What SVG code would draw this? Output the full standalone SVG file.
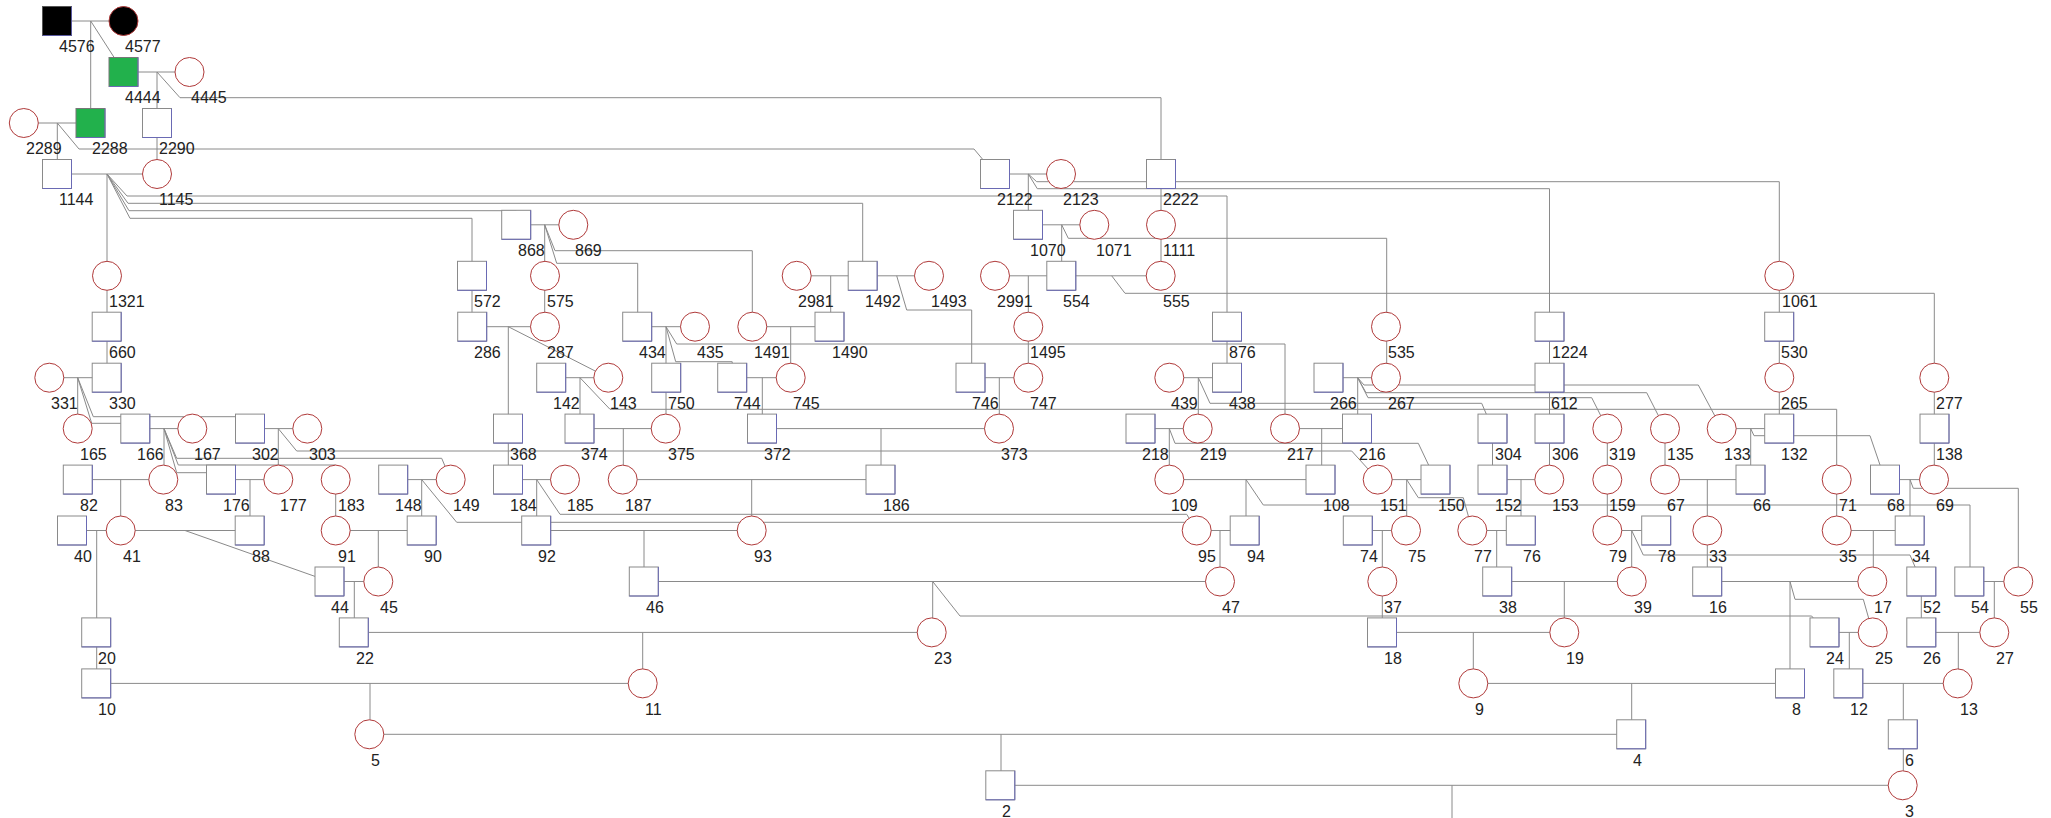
<svg xmlns="http://www.w3.org/2000/svg" xmlns:xlink="http://www.w3.org/1999/xlink" width="2051" height="818" viewBox="0 0 2051 818">
<style>
.c path{fill:none;stroke:#8a8a8a;stroke-width:1}
text{font-family:"Liberation Sans",Arial,sans-serif;font-size:16px;fill:#222}
</style>
<defs>
<g id="sq"><rect x="-14.5" y="-14.5" width="29" height="29" fill="#fff" stroke="#8a8a8a"/><path d="M14.5 -14.5V14.5H-14.5" fill="none" stroke="#6a6ab4"/></g>
<g id="sqK"><rect x="-14.5" y="-14.5" width="29" height="29" fill="#000" stroke="#555"/><path d="M14.5 -14.5V14.5H-14.5" fill="none" stroke="#5a5aa0"/></g>
<g id="sqG"><rect x="-14.5" y="-14.5" width="29" height="29" fill="#22b14c" stroke="#777"/><path d="M14.5 -14.5V14.5H-14.5" fill="none" stroke="#6a6ab4"/></g>
<circle id="ci" r="14.5" fill="#fff" stroke="#b03a3a"/>
<circle id="ciK" r="14.5" fill="#000" stroke="#b03a3a"/>
</defs>
<rect width="2051" height="818" fill="#fff"/>
<g id="connectors" class="c">
<path d="M57 21H123.5M90.7 21V123M90.7 21L123.5 72"/>
<path d="M123.5 72H189.5M157 72V174M157 72L180 97.7H1161V174"/>
<path d="M23.8 123H90.5M57.3 123V174M57.3 123L79 149H974L995 174"/>
<path d="M57 174H157M107 174V377.7M107 174L127 196H1227V377.7M107 174L128 203.3H862.7V275.8M107 174L129 210.7H516.2V224.8M107 174L130 218.3H472V326.7"/>
<path d="M995 174H1061M1028.3 174V224.8M1028.3 174L1036.7 181.7H1779.3V428.6M1028.3 174L1037.3 188.7H1549.5V479.6"/>
<path d="M1161 174V275.8"/>
<path d="M516.2 224.8H573.3M544.7 224.8V326.7M544.7 224.8L555 250.7H752.3V326.7M544.7 224.8L556.7 263.3H637.7V326.7"/>
<path d="M1028 224.8H1094.3M1061.7 224.8V275.8M1061.7 224.8L1068.3 238.3H1386.7V377.7"/>
<path d="M796.7 275.8H929M830.7 275.8V326.7M896.7 275.8L906.7 310H971.7V377.7"/>
<path d="M995 275.8H1160.7M1028.3 275.8V377.7M1111.7 275.8L1125 293.3H1934.3V479.6"/>
<path d="M472.2 326.7H545M508.3 326.7V479.6M508.3 326.7L608.3 377.7"/>
<path d="M637.2 326.7H695M666 326.7V428.6M666 326.7L676.7 344H1285V428.6M666 326.7L675.7 361.7H732.2V377.7"/>
<path d="M752.3 326.7H829.5M790.7 326.7V377.7"/>
<path d="M49.3 377.7H106.7M77.7 377.7V428.6M77.7 377.7L93.3 416.7H250V428.6M77.7 377.7L91.7 423.3H135.3"/>
<path d="M551.2 377.7H608.3M580 377.7V428.6M580 377.7L610 409.3H1836.7V479.6"/>
<path d="M732.2 377.7H790.7M762.3 377.7V428.6M970.5 377.7H1028.3M999.3 377.7V428.6"/>
<path d="M1169.3 377.7H1227M1198.3 377.7V428.6M1198.3 377.7L1210 403.3H1481.7L1492.5 428.6"/>
<path d="M1328.5 377.7H1386M1357.7 377.7V428.6M1357.7 377.7L1364 385H1698.3L1721.7 428.6M1357.7 377.7L1366 392.7H1646.7L1665 428.6M1357.7 377.7L1368 397.7H1591.7L1607.3 428.6"/>
<path d="M135.3 428.6H192.3M164 428.6V479.6M164 428.6L176.7 458.3H441.7L450.7 479.6M164 428.6L178.3 465H335.7V530.5M164 428.6L176.7 472.7H221V479.6"/>
<path d="M250 428.6H307.3M278.3 428.6V479.6M278.3 428.6L296.7 451H1351.7L1377.7 479.6"/>
<path d="M579.5 428.6H665.7M623.3 428.6V479.6M762 428.6H999M881 428.6V479.6"/>
<path d="M1140.5 428.6H1197.7M1169.3 428.6V479.6M1169.3 428.6L1175 443.3H1418.3L1435.5 479.6"/>
<path d="M1285 428.6H1357M1321.7 428.6V479.6M1492.5 428.6V479.6M1607.3 428.6V530.5M1665 428.6V479.6"/>
<path d="M1721.7 428.6H1779.2M1750.7 428.6V479.6M1750.7 428.6L1754 435.7H1870L1885 479.6"/>
<path d="M77.8 479.6H163.3M120.7 479.6V530.5M221 479.6H278.3M250 479.6V530.5"/>
<path d="M393.2 479.6H450.7M421.7 479.6V530.5M421.7 479.6L456.7 522.3H1186.7L1196.7 530.5"/>
<path d="M508 479.6H565M536.7 479.6V530.5M536.7 479.6L560 514.3H1186.7L1196.7 530.5"/>
<path d="M622.7 479.6H880.5M751.7 479.6V530.5"/>
<path d="M1169.3 479.6H1320.5M1246 479.6V530.5M1246 479.6L1263.3 505H1970V581.5"/>
<path d="M1377.7 479.6H1435.5M1406.7 479.6V530.5M1406.7 479.6L1418.3 497.7H1463.3L1472.3 530.5"/>
<path d="M1492.5 479.6H1549.3M1521 479.6V530.5M1665 479.6H1750.5M1707.3 479.6V581.5M1836.7 479.6V530.5"/>
<path d="M1885 479.6H1934M1910 479.6V530.5M1910 479.6L1913.3 488.3H2018.3V581.5"/>
<path d="M72 530.5H249.7M96.7 530.5V683.4M185 530.5L329.5 581.5"/>
<path d="M335.7 530.5H421.7M378.3 530.5V581.5M536.2 530.5H751.7M644 530.5V581.5"/>
<path d="M1196.7 530.5H1244.7M1220 530.5V581.5M1357.8 530.5H1406M1382.3 530.5V632.4M1472.3 530.5H1520.8M1496.7 530.5V581.5"/>
<path d="M1607.3 530.5H1656.2M1631.7 530.5V581.5M1631.7 530.5L1643.3 555H1910L1921.3 581.5"/>
<path d="M1836.7 530.5H1909.7M1873.3 530.5V581.5"/>
<path d="M329.5 581.5H378.3M354.3 581.5V632.4"/>
<path d="M643.8 581.5H1220M932.7 581.5V632.4M932.7 581.5L960 616H1811.7L1824.5 632.4"/>
<path d="M1497.2 581.5H1631.7M1564.3 581.5V632.4"/>
<path d="M1707.2 581.5H1872.3M1790 581.5V683.4M1790 581.5L1795 599.3H1863.3L1872.7 632.4"/>
<path d="M1921.3 581.5V632.4M1969.3 581.5H2018.3M1994.3 581.5V632.4"/>
<path d="M353.8 632.4H931.7M642.7 632.4V683.4M1382 632.4H1564.3M1473.3 632.4V683.4"/>
<path d="M1824.5 632.4H1872.7M1849.3 632.4V683.4M1921.3 632.4H1994.3M1958.3 632.4V683.4"/>
<path d="M96.2 683.4H642.7M370 683.4V734.3M1473.3 683.4H1790M1631.7 683.4V734.3M1848.3 683.4H1957.7M1903.3 683.4V785.3"/>
<path d="M369.3 734.3H1631.2M1001 734.3V785.3M1000.3 785.3H1902.7M1452 785.3V818"/>
</g>
<g id="n4576"><use href="#sqK" x="57" y="21"/><text x="59" y="52">4576</text></g>
<g id="n4577"><use href="#ciK" x="123.5" y="21"/><text x="125" y="52">4577</text></g>
<g id="n4444"><use href="#sqG" x="123.5" y="72"/><text x="125" y="103">4444</text></g>
<g id="n4445"><use href="#ci" x="189.5" y="72"/><text x="191" y="103">4445</text></g>
<g id="n2289"><use href="#ci" x="23.8" y="123"/><text x="26" y="154">2289</text></g>
<g id="n2288"><use href="#sqG" x="90.5" y="123"/><text x="92" y="154">2288</text></g>
<g id="n2290"><use href="#sq" x="157" y="123"/><text x="159" y="154">2290</text></g>
<g id="n1144"><use href="#sq" x="57" y="174"/><text x="59" y="205">1144</text></g>
<g id="n1145"><use href="#ci" x="157" y="174"/><text x="159" y="205">1145</text></g>
<g id="n2122"><use href="#sq" x="995" y="174"/><text x="997" y="205">2122</text></g>
<g id="n2123"><use href="#ci" x="1061" y="174"/><text x="1063" y="205">2123</text></g>
<g id="n2222"><use href="#sq" x="1161" y="174"/><text x="1163" y="205">2222</text></g>
<g id="n868"><use href="#sq" x="516.2" y="224.8"/><text x="518" y="256">868</text></g>
<g id="n869"><use href="#ci" x="573.3" y="224.8"/><text x="575" y="256">869</text></g>
<g id="n1070"><use href="#sq" x="1028" y="224.8"/><text x="1030" y="256">1070</text></g>
<g id="n1071"><use href="#ci" x="1094.3" y="224.8"/><text x="1096" y="256">1071</text></g>
<g id="n1111"><use href="#ci" x="1161" y="224.8"/><text x="1163" y="256">1111</text></g>
<g id="n1321"><use href="#ci" x="107" y="275.8"/><text x="109" y="307">1321</text></g>
<g id="n572"><use href="#sq" x="472" y="275.8"/><text x="474" y="307">572</text></g>
<g id="n575"><use href="#ci" x="545" y="275.8"/><text x="547" y="307">575</text></g>
<g id="n2981"><use href="#ci" x="796.7" y="275.8"/><text x="798" y="307">2981</text></g>
<g id="n1492"><use href="#sq" x="862.7" y="275.8"/><text x="865" y="307">1492</text></g>
<g id="n1493"><use href="#ci" x="929" y="275.8"/><text x="931" y="307">1493</text></g>
<g id="n2991"><use href="#ci" x="995" y="275.8"/><text x="997" y="307">2991</text></g>
<g id="n554"><use href="#sq" x="1061.3" y="275.8"/><text x="1063" y="307">554</text></g>
<g id="n555"><use href="#ci" x="1160.7" y="275.8"/><text x="1163" y="307">555</text></g>
<g id="n1061"><use href="#ci" x="1779.3" y="275.8"/><text x="1782" y="307">1061</text></g>
<g id="n660"><use href="#sq" x="106.7" y="326.7"/><text x="109" y="358">660</text></g>
<g id="n286"><use href="#sq" x="472.2" y="326.7"/><text x="474" y="358">286</text></g>
<g id="n287"><use href="#ci" x="545" y="326.7"/><text x="547" y="358">287</text></g>
<g id="n434"><use href="#sq" x="637.2" y="326.7"/><text x="639" y="358">434</text></g>
<g id="n435"><use href="#ci" x="695" y="326.7"/><text x="697" y="358">435</text></g>
<g id="n1491"><use href="#ci" x="752.3" y="326.7"/><text x="754" y="358">1491</text></g>
<g id="n1490"><use href="#sq" x="829.5" y="326.7"/><text x="832" y="358">1490</text></g>
<g id="n1495"><use href="#ci" x="1028.3" y="326.7"/><text x="1030" y="358">1495</text></g>
<g id="n876"><use href="#sq" x="1227" y="326.7"/><text x="1229" y="358">876</text></g>
<g id="n535"><use href="#ci" x="1386" y="326.7"/><text x="1388" y="358">535</text></g>
<g id="n1224"><use href="#sq" x="1549.5" y="326.7"/><text x="1552" y="358">1224</text></g>
<g id="n530"><use href="#sq" x="1779.2" y="326.7"/><text x="1781" y="358">530</text></g>
<g id="n331"><use href="#ci" x="49.3" y="377.7"/><text x="51" y="409">331</text></g>
<g id="n330"><use href="#sq" x="106.7" y="377.7"/><text x="109" y="409">330</text></g>
<g id="n142"><use href="#sq" x="551.2" y="377.7"/><text x="553" y="409">142</text></g>
<g id="n143"><use href="#ci" x="608.3" y="377.7"/><text x="610" y="409">143</text></g>
<g id="n750"><use href="#sq" x="666.2" y="377.7"/><text x="668" y="409">750</text></g>
<g id="n744"><use href="#sq" x="732.2" y="377.7"/><text x="734" y="409">744</text></g>
<g id="n745"><use href="#ci" x="790.7" y="377.7"/><text x="793" y="409">745</text></g>
<g id="n746"><use href="#sq" x="970.5" y="377.7"/><text x="972" y="409">746</text></g>
<g id="n747"><use href="#ci" x="1028.3" y="377.7"/><text x="1030" y="409">747</text></g>
<g id="n439"><use href="#ci" x="1169.3" y="377.7"/><text x="1171" y="409">439</text></g>
<g id="n438"><use href="#sq" x="1227" y="377.7"/><text x="1229" y="409">438</text></g>
<g id="n266"><use href="#sq" x="1328.5" y="377.7"/><text x="1330" y="409">266</text></g>
<g id="n267"><use href="#ci" x="1386" y="377.7"/><text x="1388" y="409">267</text></g>
<g id="n612"><use href="#sq" x="1549.5" y="377.7"/><text x="1551" y="409">612</text></g>
<g id="n265"><use href="#ci" x="1779.3" y="377.7"/><text x="1781" y="409">265</text></g>
<g id="n277"><use href="#ci" x="1934.3" y="377.7"/><text x="1936" y="409">277</text></g>
<g id="n165"><use href="#ci" x="77.7" y="428.6"/><text x="80" y="460">165</text></g>
<g id="n166"><use href="#sq" x="135.3" y="428.6"/><text x="137" y="460">166</text></g>
<g id="n167"><use href="#ci" x="192.3" y="428.6"/><text x="194" y="460">167</text></g>
<g id="n302"><use href="#sq" x="250" y="428.6"/><text x="252" y="460">302</text></g>
<g id="n303"><use href="#ci" x="307.3" y="428.6"/><text x="309" y="460">303</text></g>
<g id="n368"><use href="#sq" x="508" y="428.6"/><text x="510" y="460">368</text></g>
<g id="n374"><use href="#sq" x="579.5" y="428.6"/><text x="581" y="460">374</text></g>
<g id="n375"><use href="#ci" x="665.7" y="428.6"/><text x="668" y="460">375</text></g>
<g id="n372"><use href="#sq" x="762" y="428.6"/><text x="764" y="460">372</text></g>
<g id="n373"><use href="#ci" x="999" y="428.6"/><text x="1001" y="460">373</text></g>
<g id="n218"><use href="#sq" x="1140.5" y="428.6"/><text x="1142" y="460">218</text></g>
<g id="n219"><use href="#ci" x="1197.7" y="428.6"/><text x="1200" y="460">219</text></g>
<g id="n217"><use href="#ci" x="1285" y="428.6"/><text x="1287" y="460">217</text></g>
<g id="n216"><use href="#sq" x="1357" y="428.6"/><text x="1359" y="460">216</text></g>
<g id="n304"><use href="#sq" x="1492.5" y="428.6"/><text x="1495" y="460">304</text></g>
<g id="n306"><use href="#sq" x="1549.5" y="428.6"/><text x="1552" y="460">306</text></g>
<g id="n319"><use href="#ci" x="1607.3" y="428.6"/><text x="1609" y="460">319</text></g>
<g id="n135"><use href="#ci" x="1665" y="428.6"/><text x="1667" y="460">135</text></g>
<g id="n133"><use href="#ci" x="1721.7" y="428.6"/><text x="1724" y="460">133</text></g>
<g id="n132"><use href="#sq" x="1779.2" y="428.6"/><text x="1781" y="460">132</text></g>
<g id="n138"><use href="#sq" x="1934.5" y="428.6"/><text x="1936" y="460">138</text></g>
<g id="n82"><use href="#sq" x="77.8" y="479.6"/><text x="80" y="511">82</text></g>
<g id="n83"><use href="#ci" x="163.3" y="479.6"/><text x="165" y="511">83</text></g>
<g id="n176"><use href="#sq" x="221" y="479.6"/><text x="223" y="511">176</text></g>
<g id="n177"><use href="#ci" x="278.3" y="479.6"/><text x="280" y="511">177</text></g>
<g id="n183"><use href="#ci" x="335.7" y="479.6"/><text x="338" y="511">183</text></g>
<g id="n148"><use href="#sq" x="393.2" y="479.6"/><text x="395" y="511">148</text></g>
<g id="n149"><use href="#ci" x="450.7" y="479.6"/><text x="453" y="511">149</text></g>
<g id="n184"><use href="#sq" x="508" y="479.6"/><text x="510" y="511">184</text></g>
<g id="n185"><use href="#ci" x="565" y="479.6"/><text x="567" y="511">185</text></g>
<g id="n187"><use href="#ci" x="622.7" y="479.6"/><text x="625" y="511">187</text></g>
<g id="n186"><use href="#sq" x="880.5" y="479.6"/><text x="883" y="511">186</text></g>
<g id="n109"><use href="#ci" x="1169.3" y="479.6"/><text x="1171" y="511">109</text></g>
<g id="n108"><use href="#sq" x="1320.5" y="479.6"/><text x="1323" y="511">108</text></g>
<g id="n151"><use href="#ci" x="1377.7" y="479.6"/><text x="1380" y="511">151</text></g>
<g id="n150"><use href="#sq" x="1435.5" y="479.6"/><text x="1438" y="511">150</text></g>
<g id="n152"><use href="#sq" x="1492.5" y="479.6"/><text x="1495" y="511">152</text></g>
<g id="n153"><use href="#ci" x="1549.3" y="479.6"/><text x="1552" y="511">153</text></g>
<g id="n159"><use href="#ci" x="1607.3" y="479.6"/><text x="1609" y="511">159</text></g>
<g id="n67"><use href="#ci" x="1665" y="479.6"/><text x="1667" y="511">67</text></g>
<g id="n66"><use href="#sq" x="1750.5" y="479.6"/><text x="1753" y="511">66</text></g>
<g id="n71"><use href="#ci" x="1836.7" y="479.6"/><text x="1839" y="511">71</text></g>
<g id="n68"><use href="#sq" x="1885" y="479.6"/><text x="1887" y="511">68</text></g>
<g id="n69"><use href="#ci" x="1934" y="479.6"/><text x="1936" y="511">69</text></g>
<g id="n40"><use href="#sq" x="72" y="530.5"/><text x="74" y="562">40</text></g>
<g id="n41"><use href="#ci" x="120.7" y="530.5"/><text x="123" y="562">41</text></g>
<g id="n88"><use href="#sq" x="249.7" y="530.5"/><text x="252" y="562">88</text></g>
<g id="n91"><use href="#ci" x="335.7" y="530.5"/><text x="338" y="562">91</text></g>
<g id="n90"><use href="#sq" x="421.7" y="530.5"/><text x="424" y="562">90</text></g>
<g id="n92"><use href="#sq" x="536.2" y="530.5"/><text x="538" y="562">92</text></g>
<g id="n93"><use href="#ci" x="751.7" y="530.5"/><text x="754" y="562">93</text></g>
<g id="n95"><use href="#ci" x="1196.7" y="530.5"/><text x="1198" y="562">95</text></g>
<g id="n94"><use href="#sq" x="1244.7" y="530.5"/><text x="1247" y="562">94</text></g>
<g id="n74"><use href="#sq" x="1357.8" y="530.5"/><text x="1360" y="562">74</text></g>
<g id="n75"><use href="#ci" x="1406" y="530.5"/><text x="1408" y="562">75</text></g>
<g id="n77"><use href="#ci" x="1472.3" y="530.5"/><text x="1474" y="562">77</text></g>
<g id="n76"><use href="#sq" x="1520.8" y="530.5"/><text x="1523" y="562">76</text></g>
<g id="n79"><use href="#ci" x="1607.3" y="530.5"/><text x="1609" y="562">79</text></g>
<g id="n78"><use href="#sq" x="1656.2" y="530.5"/><text x="1658" y="562">78</text></g>
<g id="n33"><use href="#ci" x="1707.3" y="530.5"/><text x="1709" y="562">33</text></g>
<g id="n35"><use href="#ci" x="1836.7" y="530.5"/><text x="1839" y="562">35</text></g>
<g id="n34"><use href="#sq" x="1909.7" y="530.5"/><text x="1912" y="562">34</text></g>
<g id="n44"><use href="#sq" x="329.5" y="581.5"/><text x="331" y="613">44</text></g>
<g id="n45"><use href="#ci" x="378.3" y="581.5"/><text x="380" y="613">45</text></g>
<g id="n46"><use href="#sq" x="643.8" y="581.5"/><text x="646" y="613">46</text></g>
<g id="n47"><use href="#ci" x="1220" y="581.5"/><text x="1222" y="613">47</text></g>
<g id="n37"><use href="#ci" x="1382.3" y="581.5"/><text x="1384" y="613">37</text></g>
<g id="n38"><use href="#sq" x="1497.2" y="581.5"/><text x="1499" y="613">38</text></g>
<g id="n39"><use href="#ci" x="1631.7" y="581.5"/><text x="1634" y="613">39</text></g>
<g id="n16"><use href="#sq" x="1707.2" y="581.5"/><text x="1709" y="613">16</text></g>
<g id="n17"><use href="#ci" x="1872.3" y="581.5"/><text x="1874" y="613">17</text></g>
<g id="n52"><use href="#sq" x="1921.3" y="581.5"/><text x="1923" y="613">52</text></g>
<g id="n54"><use href="#sq" x="1969.3" y="581.5"/><text x="1971" y="613">54</text></g>
<g id="n55"><use href="#ci" x="2018.3" y="581.5"/><text x="2020" y="613">55</text></g>
<g id="n20"><use href="#sq" x="96.2" y="632.4"/><text x="98" y="664">20</text></g>
<g id="n22"><use href="#sq" x="353.8" y="632.4"/><text x="356" y="664">22</text></g>
<g id="n23"><use href="#ci" x="931.7" y="632.4"/><text x="934" y="664">23</text></g>
<g id="n18"><use href="#sq" x="1382" y="632.4"/><text x="1384" y="664">18</text></g>
<g id="n19"><use href="#ci" x="1564.3" y="632.4"/><text x="1566" y="664">19</text></g>
<g id="n24"><use href="#sq" x="1824.5" y="632.4"/><text x="1826" y="664">24</text></g>
<g id="n25"><use href="#ci" x="1872.7" y="632.4"/><text x="1875" y="664">25</text></g>
<g id="n26"><use href="#sq" x="1921.3" y="632.4"/><text x="1923" y="664">26</text></g>
<g id="n27"><use href="#ci" x="1994.3" y="632.4"/><text x="1996" y="664">27</text></g>
<g id="n10"><use href="#sq" x="96.2" y="683.4"/><text x="98" y="715">10</text></g>
<g id="n11"><use href="#ci" x="642.7" y="683.4"/><text x="645" y="715">11</text></g>
<g id="n9"><use href="#ci" x="1473.3" y="683.4"/><text x="1475" y="715">9</text></g>
<g id="n8"><use href="#sq" x="1790" y="683.4"/><text x="1792" y="715">8</text></g>
<g id="n12"><use href="#sq" x="1848.3" y="683.4"/><text x="1850" y="715">12</text></g>
<g id="n13"><use href="#ci" x="1957.7" y="683.4"/><text x="1960" y="715">13</text></g>
<g id="n5"><use href="#ci" x="369.3" y="734.3"/><text x="371" y="766">5</text></g>
<g id="n4"><use href="#sq" x="1631.2" y="734.3"/><text x="1633" y="766">4</text></g>
<g id="n6"><use href="#sq" x="1902.8" y="734.3"/><text x="1905" y="766">6</text></g>
<g id="n2"><use href="#sq" x="1000.3" y="785.3"/><text x="1002" y="817">2</text></g>
<g id="n3"><use href="#ci" x="1902.7" y="785.3"/><text x="1905" y="817">3</text></g>
</svg>
